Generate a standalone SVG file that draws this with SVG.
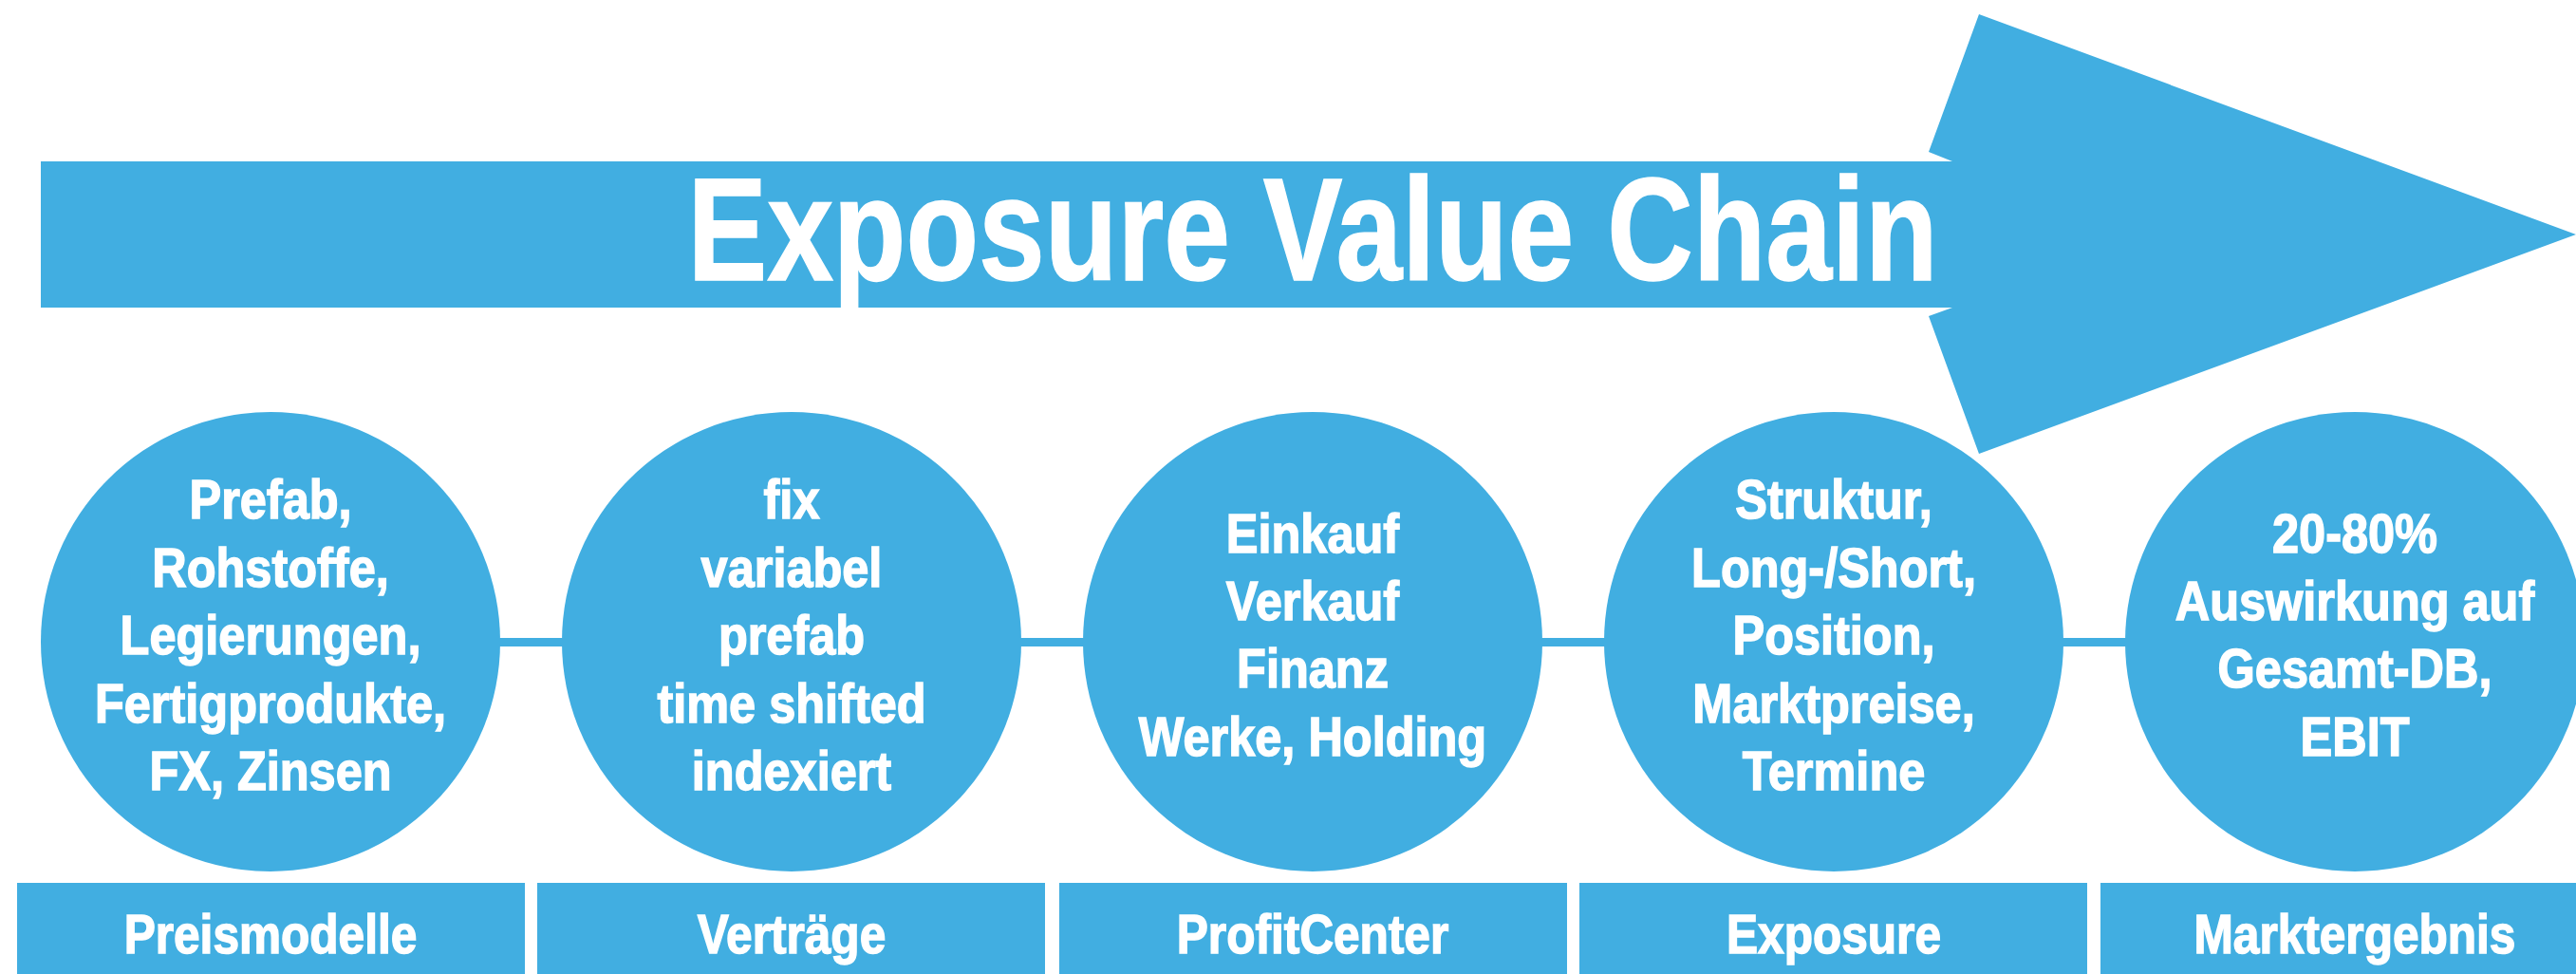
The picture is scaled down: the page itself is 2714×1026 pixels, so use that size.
<svg xmlns="http://www.w3.org/2000/svg" width="2714" height="1026" viewBox="0 0 2714 1026">
<style>
.b{fill:#41AEE1}
.t{fill:#fff;stroke:#fff;stroke-width:1.5;font-family:"Liberation Sans",Arial,sans-serif;font-weight:bold;text-anchor:middle}
.c{font-size:58px}
.l{font-size:57px}
</style>
<rect width="2714" height="1026" fill="#fff"/>
<g id="arrow">
<polygon class="b" points="43,170 2057,170 2032,160 2085,15 2714,247 2085,478 2032,333 2057,324 43,324"/>
<text class="t" x="1383" y="295" font-size="154" stroke-width="4" textLength="1317" lengthAdjust="spacingAndGlyphs">Exposure Value Chain</text>
</g>
<g id="connectors">
<rect class="b" x="520" y="672" width="80" height="9"/>
<rect class="b" x="1070" y="672" width="80" height="9"/>
<rect class="b" x="1618" y="672" width="80" height="9"/>
<rect class="b" x="2166" y="672" width="80" height="9"/>
</g>
<g id="n1">
<circle class="b" cx="285" cy="676" r="242"/>
<g class="t c" transform="translate(285,0) scale(0.87,1)">
<text x="0" y="546">Prefab,</text>
<text x="0" y="618">Rohstoffe,</text>
<text x="0" y="689">Legierungen,</text>
<text x="0" y="761">Fertigprodukte,</text>
<text x="0" y="832">FX, Zinsen</text>
</g>
</g>
<g id="n2">
<circle class="b" cx="834" cy="676" r="242"/>
<g class="t c" transform="translate(834,0) scale(0.87,1)">
<text x="0" y="546">fix</text>
<text x="0" y="618">variabel</text>
<text x="0" y="689">prefab</text>
<text x="0" y="761">time shifted</text>
<text x="0" y="832">indexiert</text>
</g>
</g>
<g id="n3">
<circle class="b" cx="1383" cy="676" r="242"/>
<g class="t c" transform="translate(1383,0) scale(0.87,1)">
<text x="0" y="582">Einkauf</text>
<text x="0" y="653">Verkauf</text>
<text x="0" y="724">Finanz</text>
<text x="0" y="796">Werke, Holding</text>
</g>
</g>
<g id="n4">
<circle class="b" cx="1932" cy="676" r="242"/>
<g class="t c" transform="translate(1932,0) scale(0.87,1)">
<text x="0" y="546">Struktur,</text>
<text x="0" y="618">Long-/Short,</text>
<text x="0" y="689">Position,</text>
<text x="0" y="761">Marktpreise,</text>
<text x="0" y="832">Termine</text>
</g>
</g>
<g id="n5">
<circle class="b" cx="2481" cy="676" r="242"/>
<g class="t c" transform="translate(2481,0) scale(0.87,1)">
<text x="0" y="582">20-80%</text>
<text x="0" y="653">Auswirkung auf</text>
<text x="0" y="724">Gesamt-DB,</text>
<text x="0" y="796">EBIT</text>
</g>
</g>
<g id="l1"><rect class="b" x="18" y="930" width="535" height="96"/><text class="t l" transform="translate(285,1004) scale(0.87,1)">Preismodelle</text></g>
<g id="l2"><rect class="b" x="566" y="930" width="535" height="96"/><text class="t l" transform="translate(834,1004) scale(0.87,1)">Verträge</text></g>
<g id="l3"><rect class="b" x="1116" y="930" width="535" height="96"/><text class="t l" transform="translate(1383,1004) scale(0.87,1)">ProfitCenter</text></g>
<g id="l4"><rect class="b" x="1664" y="930" width="535" height="96"/><text class="t l" transform="translate(1932,1004) scale(0.87,1)">Exposure</text></g>
<g id="l5"><rect class="b" x="2213" y="930" width="535" height="96"/><text class="t l" transform="translate(2481,1004) scale(0.87,1)">Marktergebnis</text></g>
</svg>
